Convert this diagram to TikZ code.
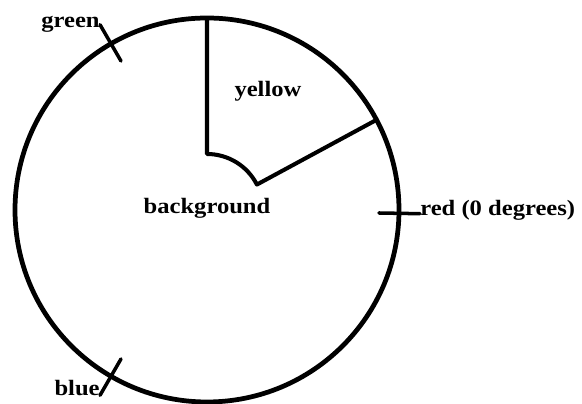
\documentclass[tikz,border=0pt]{standalone}
\usepackage{fontspec}
\setmainfont{Liberation Serif}[FakeStretch=1.12]
\usepackage{tikz}
\usetikzlibrary{calc}

\tikzset{
  lbl/.style={font=\fontsize{12.5}{14}\selectfont\bfseries, inner sep=0pt},
  tick/.style={line width=2pt, line cap=round}
}

\begin{document}
\begin{tikzpicture}[x=0.02cm,y=0.02cm]
				\useasboundingbox (0,0) rectangle (582,404);
				% colour wheel
				\coordinate (c) at (207,194);
				\draw[line width=2.7pt] (c) circle[radius=192];

				% yellow sector
				\coordinate (y1) at ($(c)+(90:192)$);
				\coordinate (y2) at ($(c)+(90:56)$);
				\coordinate (y3) at ($(c)+(28:192)$);
				\draw[line width=2.3pt, line join=round] (y1) -- (y2) arc[start angle=90, end angle=27, radius=56] -- (y3);
				\node[lbl] (yellow) at (268,313) {yellow};

				\node[lbl] (background) at ($(c)+(0,2)$) {background};

				% hue ticks
				\coordinate (gi) at ($(c)+(120:172)$);
				\coordinate (go) at ($(c)+(120:214)$);
				\coordinate (bi) at ($(c)+(240:172)$);
				\coordinate (bo) at ($(c)+(240:214)$);
				\coordinate (ri) at ($(c)+(-1:172)$);
				\coordinate (ro) at ($(c)+(-1:213)$);
				\draw[tick] (gi) -- (go);
				\draw[tick] (bi) -- (bo);
				\draw[tick] (ri) -- (ro);

				\node[lbl,anchor=east] (green) at (go) {green};
				\node[lbl,anchor=base east] (blue) at (bo) {blue};
				\node[lbl,anchor=base west] (red) at ($(ro)+(0,-2)$) {red (0 degrees)};
			\end{tikzpicture}
\end{document}
